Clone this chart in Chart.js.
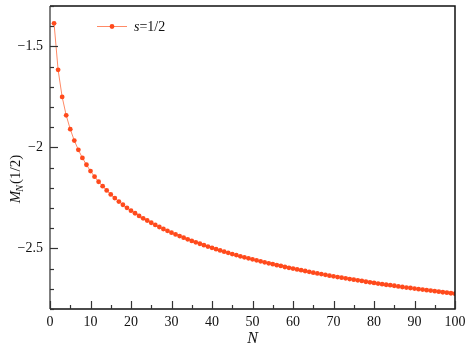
<!DOCTYPE html>
<html>
<head>
<meta charset="utf-8">
<script src="https://cdn.jsdelivr.net/npm/chart.js@4.4.1/dist/chart.umd.min.js"></script>
<style>
  html, body { margin: 0; padding: 0; background: #fff; }
  #wrap { width: 469px; height: 347px; }
</style>
</head>
<body>
<div id="wrap"><canvas id="c" width="469" height="347"></canvas></div>
<script>
const seriesLabel = "s=1/2";
const nValues = [];
for (let i = 1; i <= 100; i++) nValues.push(i);

// M_N(1/2)
const mValues = [
  -1.386, -1.616, -1.750, -1.841, -1.910, -1.966, -2.012, -2.052, -2.086, -2.117,
  -2.145, -2.170, -2.192, -2.213, -2.233, -2.251, -2.268, -2.284, -2.299, -2.313,
  -2.326, -2.339, -2.351, -2.362, -2.373, -2.384, -2.394, -2.404, -2.413, -2.422,
  -2.431, -2.439, -2.447, -2.455, -2.463, -2.470, -2.477, -2.484, -2.491, -2.497,
  -2.504, -2.510, -2.516, -2.522, -2.528, -2.533, -2.539, -2.544, -2.549, -2.554,
  -2.559, -2.564, -2.569, -2.574, -2.578, -2.583, -2.587, -2.592, -2.596, -2.600,
  -2.604, -2.608, -2.612, -2.616, -2.620, -2.624, -2.627, -2.631, -2.635, -2.638,
  -2.642, -2.645, -2.648, -2.652, -2.655, -2.658, -2.661, -2.665, -2.668, -2.671,
  -2.674, -2.677, -2.680, -2.682, -2.685, -2.688, -2.691, -2.694, -2.696, -2.699,
  -2.702, -2.704, -2.707, -2.709, -2.712, -2.714, -2.717, -2.719, -2.722, -2.724
];

const xTickLabels = [0, 10, 20, 30, 40, 50, 60, 70, 80, 90, 100];
const yTickLabels = [-1.5, -2, -2.5];

const serif = "'Liberation Serif', 'DejaVu Serif', serif";
const lineColor = "#ff8a66";
const markColor = "#ff4a1c";

function fmtMinus(v) {
  return v < 0 ? "\u2212" + String(-v) : String(v);
}

const frameAndTicks = {
  id: "frameAndTicks",
  afterDraw(chart) {
    const ctx = chart.ctx;
    const a = chart.chartArea;
    const xs = chart.scales.x, ys = chart.scales.y;
    ctx.save();
    // frame
    ctx.lineWidth = 1.5;
    ctx.strokeStyle = "#111";
    ctx.beginPath();
    ctx.moveTo(a.left, a.top); ctx.lineTo(a.right, a.top); ctx.lineTo(a.right, a.bottom);
    ctx.lineTo(a.left, a.bottom);
    ctx.stroke();
    ctx.strokeStyle = "#555";
    ctx.beginPath();
    ctx.moveTo(a.left, a.top); ctx.lineTo(a.left, a.bottom);
    ctx.stroke();

    // inward ticks
    ctx.lineWidth = 1.2;
    ctx.strokeStyle = "#333";
    for (let v = 0; v <= 100; v += 5) {
      const px = Math.round(xs.getPixelForValue(v)) + 0.5;
      const len = v % 10 === 0 ? 8 : 4;
      ctx.beginPath(); ctx.moveTo(px, a.bottom); ctx.lineTo(px, a.bottom - len); ctx.stroke();
    }
    for (let k = -28; k <= -13; k++) {
      const v = k / 10;
      const py = Math.round(ys.getPixelForValue(v)) + 0.5;
      const len = k % 5 === 0 ? 8 : 4;
      ctx.beginPath(); ctx.moveTo(a.left, py); ctx.lineTo(a.left + len, py); ctx.stroke();
    }

    // legend
    const ly = 26;
    ctx.strokeStyle = lineColor;
    ctx.lineWidth = 1;
    ctx.beginPath(); ctx.moveTo(97, ly + 0.5); ctx.lineTo(127, ly + 0.5); ctx.stroke();
    ctx.fillStyle = markColor;
    ctx.beginPath(); ctx.arc(112, ly + 0.5, 2.4, 0, Math.PI * 2); ctx.fill();
    ctx.fillStyle = "#111";
    ctx.textBaseline = "middle";
    ctx.textAlign = "left";
    ctx.font = "italic 14px " + serif;
    ctx.fillText("s", 134, ly + 1);
    const sw = ctx.measureText("s").width;
    ctx.font = "14px " + serif;
    ctx.fillText("=1/2", 134 + sw, ly + 1);

    // y title M_N(1/2)
    ctx.translate(20, 179);
    ctx.rotate(-Math.PI / 2);
    ctx.textBaseline = "alphabetic";
    ctx.font = "italic 15px " + serif;
    const mW = ctx.measureText("M").width;
    ctx.font = "italic 10px " + serif;
    const nW = ctx.measureText("N").width;
    ctx.font = "15px " + serif;
    const pW = ctx.measureText("(1/2)").width;
    let x0 = -(mW + nW + pW) / 2;
    ctx.font = "italic 15px " + serif;
    ctx.fillText("M", x0, 0);
    ctx.font = "italic 10px " + serif;
    ctx.fillText("N", x0 + mW - 1, 3);
    ctx.font = "15px " + serif;
    ctx.fillText("(1/2)", x0 + mW + nW, 0);
    ctx.restore();
  }
};

new Chart(document.getElementById("c"), {
  type: "line",
  data: {
    labels: nValues,
    datasets: [{
      label: seriesLabel,
      data: nValues.map((n, i) => ({ x: n, y: mValues[i] })),
      borderColor: lineColor,
      borderWidth: 1,
      pointRadius: 2.4,
      pointBackgroundColor: markColor,
      pointBorderWidth: 0,
      tension: 0
    }]
  },
  options: {
    responsive: false,
    animation: false,
    layout: { padding: { top: 6, right: 14, left: 0, bottom: 0 } },
    plugins: { legend: { display: false }, tooltip: { enabled: false } },
    scales: {
      x: {
        type: "linear",
        min: 0, max: 100,
        grid: { display: false, drawTicks: false },
        border: { display: false },
        ticks: {
          stepSize: 5,
          padding: 5,
          maxRotation: 0,
          autoSkip: false,
          color: "#111",
          font: { family: serif, size: 14 },
          callback: (v) => xTickLabels.includes(v) ? String(v) : ""
        },
        title: {
          display: true, text: "N", color: "#111",
          font: { family: serif, size: 16, style: "italic" },
          padding: { top: 0, bottom: -1 }
        },
        afterFit: (s) => { s.height = 38; s.paddingLeft = 0; s.paddingRight = 0; }
      },
      y: {
        type: "linear",
        min: -2.8, max: -1.3,
        grid: { display: false, drawTicks: false },
        border: { display: false },
        ticks: {
          stepSize: 0.1,
          padding: 7,
          autoSkip: false,
          color: "#111",
          font: { family: serif, size: 14 },
          callback: (v) => {
            const r = Math.round(v * 10) / 10;
            return yTickLabels.includes(r) ? fmtMinus(r) : "";
          }
        },
        afterFit: (s) => { s.width = 50; s.paddingTop = 0; s.paddingBottom = 0; }
      }
    }
  },
  plugins: [frameAndTicks]
});
</script>
</body>
</html>
